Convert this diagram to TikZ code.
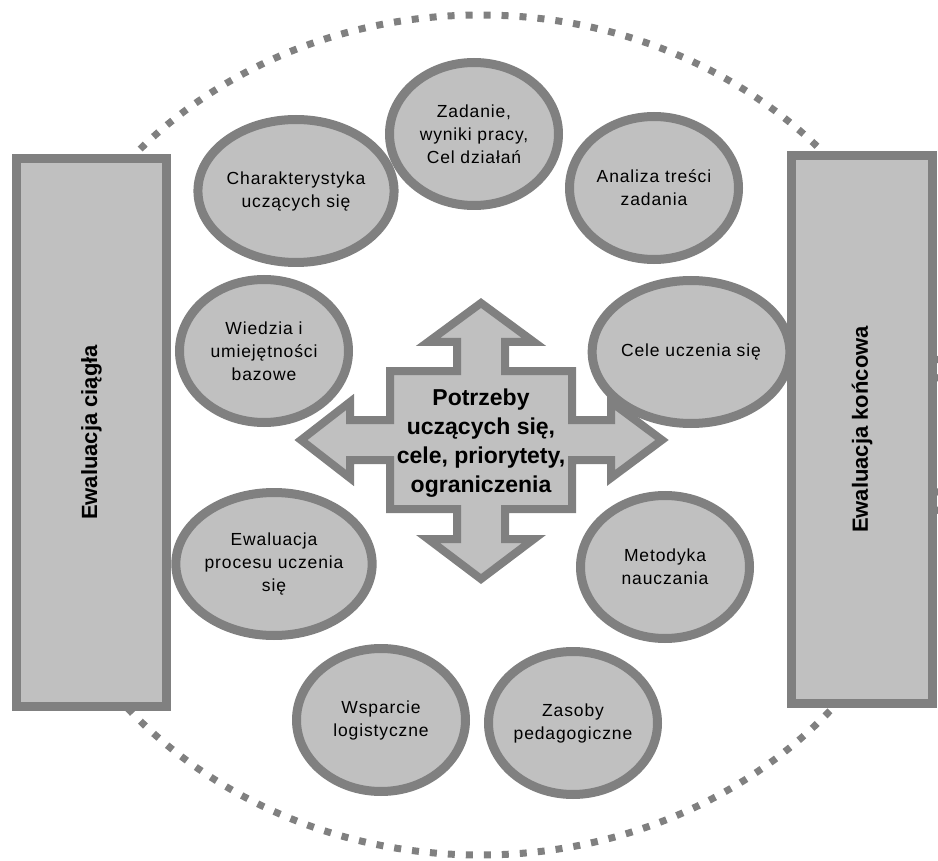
\documentclass[tikz,border=0pt]{standalone}
\usepackage{fontspec}
\setmainfont{Liberation Sans}
\newfontfamily\ringfont{Liberation Sans}[LetterSpace=5]
\usetikzlibrary{shapes.geometric}

\definecolor{rimgray}{HTML}{808080}
\definecolor{padgray}{HTML}{C0C0C0}

\tikzset{
  topic/.style={ellipse, draw=rimgray, fill=padgray, line width=9pt,
    minimum width=169pt, minimum height=143pt, inner sep=0pt, align=center,
    font=\ringfont\fontsize{17.5}{23}\selectfont},
  evalbar/.style={rectangle, draw=rimgray, fill=padgray, line width=9pt,
    inner sep=0pt, rotate=90, font=\bfseries\fontsize{22}{26}\selectfont},
  dotring/.style={draw=rimgray, line width=7pt, dash pattern=on 7pt off 11pt},
}

\begin{document}
\begin{tikzpicture}[x=1pt, y=-1pt]
  \useasboundingbox (0,0) rectangle (938,861);

  % Dotted outline round everything
  \draw[dotring] (480,435) ellipse [x radius=464, y radius=420];

  % Evaluation bars on both sides
  \node[evalbar, minimum width=547pt, minimum height=150pt] (ciagla) at (91.5,432.5) {Ewaluacja ciągła};
  \node[evalbar, minimum width=547pt, minimum height=141pt] (koncowa) at (862,429.5) {Ewaluacja końcowa};

  % Ring of topics
  \foreach \pos/\name/\txt in {
      (474,134)/zadanie/{Zadanie,\\wyniki pracy,\\Cel działań},
      (296,191)/charakter/{Charakterystyka\\uczących się},
      (654,188)/analiza/{Analiza treści\\zadania},
      (264,351)/wiedza/{Wiedzia i\\umiejętności\\bazowe},
      (691,352)/cele/{Cele uczenia się},
      (274,564)/proces/{Ewaluacja\\procesu uczenia\\się},
      (665,567)/metodyka/{Metodyka\\nauczania},
      (381,720)/wsparcie/{Wsparcie\\logistyczne},
      (573,723)/zasoby/{Zasoby\\pedagogiczne}}{
    \node[topic] (\name) at \pos {\txt};
  }

  % Four-way arrow in the middle
  \begin{scope}[shift={(481,440)}]
    \draw[draw=rimgray, fill=padgray, line width=8pt, line join=miter]
      (0,-137) -- (53,-98) -- (24,-98) -- (24,-69) -- (91,-69) -- (91,-20)
      -- (130,-20) -- (130,-38) -- (181,0) -- (130,38) -- (130,20) -- (91,20)
      -- (91,69) -- (24,69) -- (24,99) -- (53,99) -- (0,139) -- (-53,99)
      -- (-24,99) -- (-24,69) -- (-91,69) -- (-91,20) -- (-131,20) -- (-131,38)
      -- (-180,0) -- (-131,-38) -- (-131,-20) -- (-91,-20) -- (-91,-69)
      -- (-24,-69) -- (-24,-98) -- (-53,-98) -- cycle;
    \node[align=center, font=\bfseries\fontsize{23}{29}\selectfont] (potrzeby) at (0,3)
      {Potrzeby\\uczących się,\\cele, priorytety,\\ograniczenia};
  \end{scope}
\end{tikzpicture}
\end{document}
